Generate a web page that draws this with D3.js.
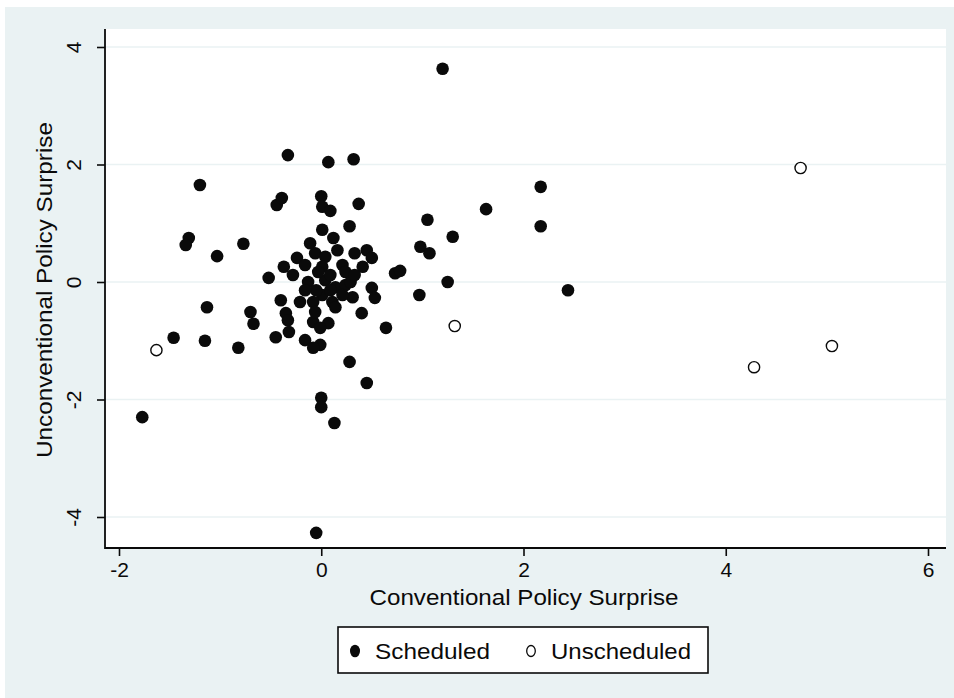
<!DOCTYPE html>
<html>
<head>
<meta charset="utf-8">
<script src="https://cdn.jsdelivr.net/npm/d3@7"></script>
<style>
  html, body { margin: 0; padding: 0; background: #fff; }
  svg { display: block; }
</style>
</head>
<body>
<div id="chart"></div>
<script>
// values
const scheduledX = [1.20, -0.33, 0.07, 0.32, -1.20, 2.17, 1.63, -0.44, -0.39, 0.00,
  0.01, 0.09, 0.37, 0.28, 2.17, 1.05, -1.31, -1.34, -0.77, -1.03,
  1.30, 0.98, 1.07, 0.01, 0.12, 1.25, 2.44, 0.97, 0.64, 0.45,
  0.28, 0.00, 0.00, 0.13, -1.77, -0.05, -1.46, -1.15, -0.82, -1.13,
  -0.70, -0.67, 0.73, 0.78, 0.50, 0.53, 0.40, -0.24, -0.37, -0.28,
  -0.52, -0.06, 0.04, 0.16, 0.01, 0.21, 0.33, 0.45, 0.50, 0.41,
  0.24, -0.13, 0.04, 0.14, 0.01, -0.08, 0.11, 0.31, 0.14, -0.40,
  -0.35, -0.33, -0.45, -0.32, -0.08, 0.07, -0.01, -0.16, -0.01, -0.08,
  -0.05, 0.09, 0.24, -0.16, 0.29, -0.16, 0.09, -0.06, -0.21, 0.21,
  0.33, -0.11, -0.03]
const scheduledY = [3.63, 2.16, 2.04, 2.09, 1.65, 1.62, 1.24, 1.31, 1.43, 1.46,
  1.28, 1.21, 1.33, 0.95, 0.95, 1.06, 0.75, 0.63, 0.65, 0.44,
  0.77, 0.60, 0.49, 0.89, 0.75, 0.00, -0.14, -0.22, -0.78, -1.72,
  -1.36, -1.97, -2.13, -2.40, -2.30, -4.27, -0.95, -1.00, -1.12, -0.43,
  -0.51, -0.71, 0.15, 0.19, -0.10, -0.27, -0.53, 0.41, 0.26, 0.12,
  0.07, 0.49, 0.43, 0.54, 0.26, 0.29, 0.49, 0.54, 0.41, 0.26,
  0.17, 0.00, 0.03, -0.09, -0.22, -0.34, -0.34, -0.26, -0.43, -0.31,
  -0.53, -0.65, -0.94, -0.85, -0.68, -0.70, -0.78, -0.99, -1.07, -1.12,
  -0.14, -0.14, -0.05, 0.29, 0.00, -0.14, 0.12, -0.51, -0.34, -0.22,
  0.12, 0.66, 0.17]
const unscheduledX = [4.74, 1.32, -1.63, 4.28, 5.05]
const unscheduledY = [1.94, -0.75, -1.16, -1.45, -1.09]

const xTicks = [-2, 0, 2, 4, 6]
const yTicks = [-4, -2, 0, 2, 4]
const xTitle = "Conventional Policy Surprise"
const yTitle = "Unconventional Policy Surprise"
const legendLabels = ["Scheduled", "Unscheduled"]

const W = 954, H = 698
const font = "'Liberation Sans', Arial, sans-serif"
const ink = "#0a0a0a"
const bg = "#eaf2f3"
const plot = {left: 105, right: 946, top: 29, bottom: 548}

const svg = d3.select("#chart").append("svg")
  .attr("width", W)
  .attr("height", H)

// outer graph region and white plot region
svg.append("rect").attr("x", 5).attr("y", 7)
  .attr("width", W - 5).attr("height", H - 7).attr("fill", bg)
svg.append("rect").attr("x", plot.left).attr("y", plot.top)
  .attr("width", plot.right - plot.left).attr("height", plot.bottom - plot.top)
  .attr("fill", "#fff")

const x = d3.scaleLinear().domain([-2, 6]).range([119, 928])
const y = d3.scaleLinear().domain([-4, 4]).range([517, 47])

// horizontal grid
svg.append("g").selectAll("line")
  .data(yTicks)
  .join("line")
  .attr("x1", plot.left).attr("x2", plot.right)
  .attr("y1", d => y(d)).attr("y2", d => y(d))
  .attr("stroke", bg)
  .attr("stroke-width", 1.5)

// axes (plain hyphen for negatives, like the original)
const fmt = d => String(d)
const xAxis = svg.append("g")
  .attr("transform", `translate(0, ${plot.bottom})`)
  .call(d3.axisBottom(x).tickValues(xTicks).tickSize(8).tickPadding(6).tickFormat(fmt))
const yAxis = svg.append("g")
  .attr("transform", `translate(${plot.left}, 0)`)
  .call(d3.axisLeft(y).tickValues(yTicks).tickSize(8).tickPadding(0).tickFormat(fmt))

;[xAxis, yAxis].forEach(axis => {
  axis.select(".domain").remove()
  axis.selectAll("line").attr("stroke", ink).attr("stroke-width", 1.6)
  axis.selectAll("text")
    .attr("fill", ink)
    .style("font-family", font)
    .style("font-size", "21px")
})
// rotated y tick labels, as stata draws them
yAxis.selectAll("text")
  .attr("text-anchor", "middle")
  .attr("x", null).attr("dy", null)
  .attr("transform", "translate(-24, 0) rotate(-90)")

svg.append("line")
  .attr("x1", plot.left).attr("x2", plot.left)
  .attr("y1", plot.top).attr("y2", plot.bottom + 1)
  .attr("stroke", ink).attr("stroke-width", 1.8)
svg.append("line")
  .attr("x1", plot.left).attr("x2", plot.right)
  .attr("y1", plot.bottom).attr("y2", plot.bottom)
  .attr("stroke", ink).attr("stroke-width", 1.8)

// axis titles
svg.append("text")
  .attr("x", 524)
  .attr("y", 605)
  .attr("text-anchor", "middle")
  .attr("fill", ink)
  .attr("textLength", 309)
  .attr("lengthAdjust", "spacingAndGlyphs")
  .style("font-family", font)
  .style("font-size", "22px")
  .text(xTitle)
svg.append("text")
  .attr("transform", `translate(52, 290) rotate(-90)`)
  .attr("text-anchor", "middle")
  .attr("fill", ink)
  .attr("textLength", 336)
  .attr("lengthAdjust", "spacingAndGlyphs")
  .style("font-family", font)
  .style("font-size", "22px")
  .text(yTitle)

// points
const r = 6.3
const sched = d3.zip(scheduledX, scheduledY)
const unsched = d3.zip(unscheduledX, unscheduledY)

svg.append("g").selectAll("circle")
  .data(sched)
  .join("circle")
  .attr("cx", d => x(d[0]))
  .attr("cy", d => y(d[1]))
  .attr("r", r)
  .attr("fill", ink)

svg.append("g").selectAll("circle")
  .data(unsched)
  .join("circle")
  .attr("cx", d => x(d[0]))
  .attr("cy", d => y(d[1]))
  .attr("r", r - 0.7)
  .attr("fill", "#fff")
  .attr("stroke", ink)
  .attr("stroke-width", 1.4)

// legend
const legend = svg.append("g")
legend.append("rect")
  .attr("x", 338).attr("y", 627)
  .attr("width", 370).attr("height", 46)
  .attr("fill", "#fff")
  .attr("stroke", ink)
  .attr("stroke-width", 1.6)

const legendX = [355, 531]
const legendW = [115, 140]
legendLabels.forEach((label, i) => {
  legend.append("ellipse")
    .attr("cx", legendX[i]).attr("cy", 651)
    .attr("rx", i === 0 ? 5 : 4.3)
    .attr("ry", i === 0 ? 6.3 : 5.5)
    .attr("fill", i === 0 ? ink : "#fff")
    .attr("stroke", ink)
    .attr("stroke-width", i === 0 ? 0 : 1.3)
  legend.append("text")
    .attr("x", legendX[i] + 20).attr("y", 659)
    .attr("fill", ink)
    .attr("textLength", legendW[i])
    .attr("lengthAdjust", "spacingAndGlyphs")
    .style("font-family", font)
    .style("font-size", "22px")
    .text(label)
})
</script>
</body>
</html>
